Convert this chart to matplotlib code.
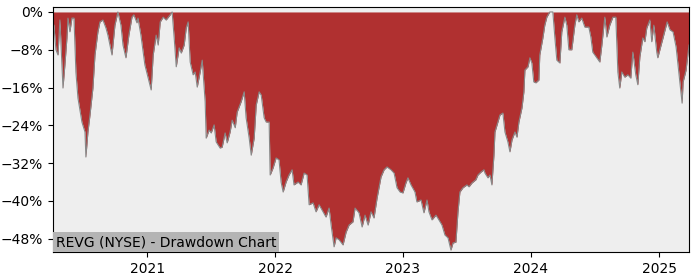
import pandas as pd
import matplotlib.pyplot as plt
import matplotlib.dates as mdates
from matplotlib.ticker import FuncFormatter, MultipleLocator

# drawdown of REVG (decimal year, percent below the running high)
years = [
    2020.266, 2020.273, 2020.289, 2020.305, 2020.320, 2020.344, 2020.359, 2020.375, 2020.383, 2020.398,
    2020.414, 2020.430, 2020.445, 2020.461, 2020.492, 2020.516, 2020.523, 2020.539, 2020.555, 2020.578,
    2020.594, 2020.617, 2020.633, 2020.656, 2020.680, 2020.695, 2020.727, 2020.750, 2020.773, 2020.797,
    2020.813, 2020.836, 2020.859, 2020.883, 2020.898, 2020.922, 2020.930, 2020.953, 2020.984, 2021.008,
    2021.031, 2021.047, 2021.070, 2021.086, 2021.102, 2021.125, 2021.148, 2021.180, 2021.195, 2021.211,
    2021.227, 2021.250, 2021.266, 2021.289, 2021.305, 2021.320, 2021.336, 2021.359, 2021.375, 2021.391,
    2021.414, 2021.430, 2021.453, 2021.461, 2021.484, 2021.500, 2021.523, 2021.539, 2021.570, 2021.586,
    2021.609, 2021.625, 2021.648, 2021.664, 2021.688, 2021.703, 2021.734, 2021.758, 2021.773, 2021.797,
    2021.813, 2021.836, 2021.852, 2021.875, 2021.891, 2021.914, 2021.930, 2021.953, 2021.961, 2021.984,
    2022.008, 2022.031, 2022.047, 2022.063, 2022.086, 2022.109, 2022.133, 2022.148, 2022.180, 2022.203,
    2022.227, 2022.250, 2022.266, 2022.297, 2022.320, 2022.344, 2022.375, 2022.398, 2022.422, 2022.438,
    2022.461, 2022.477, 2022.500, 2022.531, 2022.555, 2022.578, 2022.609, 2022.625, 2022.656, 2022.680,
    2022.703, 2022.727, 2022.750, 2022.773, 2022.797, 2022.828, 2022.852, 2022.875, 2022.906, 2022.930,
    2022.953, 2022.977, 2023.000, 2023.023, 2023.039, 2023.063, 2023.094, 2023.109, 2023.141, 2023.164,
    2023.188, 2023.203, 2023.227, 2023.258, 2023.281, 2023.305, 2023.328, 2023.352, 2023.375, 2023.391,
    2023.414, 2023.430, 2023.445, 2023.469, 2023.500, 2023.516, 2023.539, 2023.570, 2023.586, 2023.609,
    2023.633, 2023.641, 2023.664, 2023.680, 2023.695, 2023.711, 2023.719, 2023.742, 2023.758, 2023.781,
    2023.797, 2023.820, 2023.836, 2023.852, 2023.875, 2023.891, 2023.906, 2023.930, 2023.945, 2023.953,
    2023.977, 2023.992, 2024.008, 2024.023, 2024.039, 2024.063, 2024.070, 2024.094, 2024.109, 2024.125,
    2024.148, 2024.172, 2024.188, 2024.203, 2024.227, 2024.242, 2024.266, 2024.281, 2024.297, 2024.320,
    2024.344, 2024.359, 2024.375, 2024.398, 2024.422, 2024.453, 2024.469, 2024.484, 2024.516, 2024.539,
    2024.555, 2024.578, 2024.594, 2024.617, 2024.641, 2024.664, 2024.680, 2024.695, 2024.711, 2024.734,
    2024.758, 2024.781, 2024.797, 2024.820, 2024.836, 2024.852, 2024.875, 2024.891, 2024.906, 2024.930,
    2024.945, 2024.961, 2024.984, 2024.992, 2025.016, 2025.031, 2025.063, 2025.086, 2025.109, 2025.133,
    2025.148, 2025.180, 2025.188, 2025.211, 2025.227, 2025.234,
]
drawdown = [
    -2.3, -2.8, -8.0, -9.1, -1.7, -16.1, -11.2, -5.5, -1.3, -4.2,
    -1.3, -1.3, -12.7, -18.2, -23.3, -25.4, -30.7, -25.4, -21.8, -16.1,
    -9.1, -4.2, -2.1, -1.7, -3.4, -4.9, -9.1, -2.8, 0.0, -2.8,
    -7.0, -9.7, -4.9, -1.1, -0.6, -2.3, -1.3, -4.9, -11.2, -14.0,
    -16.5, -9.1, -4.9, -7.0, -2.1, -1.1, -1.7, -0.6, 0.0, -5.5,
    -11.6, -7.6, -8.7, -7.0, -3.4, -2.1, -10.6, -13.3, -12.7, -15.9,
    -12.7, -10.2, -19.0, -26.7, -25.0, -25.6, -23.9, -27.5, -28.8, -28.6,
    -25.6, -27.7, -25.4, -22.9, -24.5, -21.2, -19.0, -16.9, -22.4, -26.7,
    -30.3, -26.7, -19.7, -16.9, -17.6, -22.4, -23.3, -23.3, -34.5, -33.0,
    -30.9, -31.3, -36.0, -38.1, -36.0, -34.5, -33.4, -36.6, -36.0, -36.6,
    -34.1, -34.5, -40.8, -40.4, -42.3, -40.8, -42.3, -43.4, -41.5, -45.1,
    -49.7, -47.8, -48.2, -49.3, -46.6, -45.1, -44.4, -41.5, -42.5, -45.5,
    -43.0, -45.1, -42.3, -43.6, -39.4, -34.9, -33.4, -32.8, -33.4, -34.1,
    -37.2, -38.1, -38.3, -36.2, -35.1, -36.6, -38.1, -40.2, -39.8, -42.5,
    -39.8, -42.3, -44.0, -43.0, -44.0, -45.1, -47.2, -47.8, -50.4, -48.9,
    -48.7, -42.3, -38.1, -37.2, -36.6, -37.0, -36.2, -35.5, -34.5, -33.9,
    -33.4, -34.1, -35.1, -34.5, -36.6, -30.3, -25.4, -23.3, -21.8, -21.4,
    -25.4, -27.5, -29.6, -27.1, -25.4, -26.5, -23.3, -20.3, -16.9, -12.3,
    -11.6, -9.7, -10.8, -14.8, -15.0, -14.4, -9.1, -5.5, -2.8, -1.1,
    0.0, 0.0, -5.5, -10.2, -10.8, -4.2, -1.1, -2.8, -8.0, -8.0,
    -2.8, -0.6, -2.1, -1.3, -3.2, -3.2, -5.3, -8.5, -9.7, -10.6,
    -7.0, -1.1, -5.3, -2.8, -1.1, -1.1, -12.7, -16.1, -12.7, -13.8,
    -13.3, -14.0, -8.5, -13.3, -15.4, -9.5, -5.5, -6.3, -3.4, -1.7,
    -6.3, -2.8, -8.5, -9.7, -7.0, -5.5, -2.1, -3.8, -4.2, -7.4,
    -11.2, -19.3, -14.8, -12.3, -8.5, -7.0,
]

dates = [pd.Timestamp(int(y), 1, 1) + pd.Timedelta(days=(y - int(y)) * 365.25) for y in years]

fig = plt.figure(figsize=(7, 2.8), dpi=100)
ax = fig.add_axes([0.0757, 0.1, 0.9086, 0.875])
ax.set_facecolor("#eeeeee")

ax.fill_between(dates, drawdown, 0, color="#b03030", linewidth=0)
ax.plot(dates, drawdown, color="#888888", linewidth=0.8)

ax.set_xlim(dates[0], dates[-1])
ax.set_ylim(-50.8, 1.05)
ax.yaxis.set_major_locator(MultipleLocator(8))
ax.yaxis.set_major_formatter(FuncFormatter(lambda v, _: f"{v:.0f}%".replace("-", "\u2212")))
ax.xaxis.set_major_locator(mdates.YearLocator())
ax.xaxis.set_major_formatter(mdates.DateFormatter("%Y"))

ax.text(0.004, 0.012, "REVG (NYSE) - Drawdown Chart", transform=ax.transAxes,
        fontsize=10, va="bottom", ha="left",
        bbox=dict(boxstyle="square,pad=0.2", facecolor="#b4b4b4", edgecolor="none"))

plt.savefig("out.png", dpi=100)
